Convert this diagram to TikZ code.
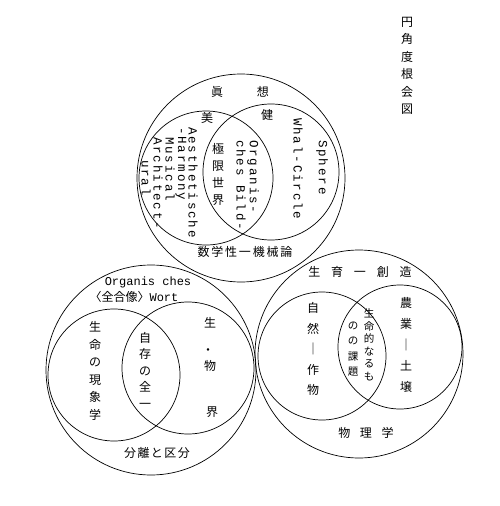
\documentclass[tikz,border=0pt]{standalone}
\usepackage{fontspec}
\setmonofont{Liberation Mono}
\newfontfamily\jp{Noto Sans CJK JP}
\usetikzlibrary{positioning}

\tikzset{
  ring/.style={draw, line width=0.7pt},
  kanji/.style={font=\jp\fontsize{12}{#1}\selectfont, align=center, inner sep=0pt},
  kanji/.default=17,
  kanjirow/.style={font=\jp\fontsize{12}{12}\selectfont\addfontfeature{LetterSpace=#1}, inner sep=0pt},
  kanjirow/.default=0,
  vword/.style={font=\ttfamily\fontsize{12.5}{12.5}\selectfont\addfontfeature{LetterSpace=15}, rotate=-90, anchor=west, inner sep=0pt},
  hword/.style={font=\ttfamily\fontsize{12}{14}\selectfont, inner sep=0pt},
}

\begin{document}
\begin{tikzpicture}[x=1pt, y=-1pt]
        \useasboundingbox (0,0) rectangle (500,506);

        % Title
        \node[kanji=17.5] (title) at (407,66) {円\\角\\度\\根\\会\\図};

        % Upper circle
        \draw[ring] (241,178) circle[radius=104pt];
        \draw[ring] (206,178) circle[radius=67pt];
        \draw[ring] (271,172) circle[radius=68pt];
        \node[kanjirow] (shinso) at (240,92) {眞\hspace{34pt}想};
        \node[kanjirow] (bi) at (207,118) {美};
        \node[kanjirow] (ken) at (267,115) {健};
        \node[vword] (aesth) at (193,127) {Aesthetische};
        \node[vword] (harm) at (181,127) {-Harmony};
        \node[vword] (music) at (170,137) {Musical};
        \node[vword] (archi) at (158,137) {Architect-};
        \node[vword] (ural) at (146,160) {ural};
        \node[kanji] (kyokugen) at (218,174) {極\\限\\世\\界};
        \node[vword] (organ) at (253,140) {Organis-};
        \node[vword] (bild) at (241,140) {ches Bild-};
        \node[vword] (sphere) at (322,140) {Sphere};
        \node[vword] (whole) at (298,118) {Whal-Circle};
        \node[kanjirow=15] (suugaku) at (245,252) {数学性一機械論};

        % Lower left circle
        \draw[ring] (151,370) circle[radius=105pt];
        \draw[ring] (114,375) circle[radius=66pt];
        \draw[ring] (188,368) circle[radius=66pt];
        \node[hword] (wort1) at (148,282) {Organis ches};
        \node[hword] (wort2) at (134,297) {{\jp\fontsize{12}{12}\selectfont 〈全合像〉}Wort};
        \node[kanji=17.5] (genshou) at (95,371) {生\\命\\の\\現\\象\\学};
        \node[kanji=16.5] (jison) at (145,370) {自\\存\\の\\全\\一};
        \node[kanjirow] (sei) at (210,323) {生};
        \node[kanjirow] (dot) at (208,352) {・};
        \node[kanjirow] (butsu) at (210,366) {物};
        \node[kanjirow] (kai) at (212,412) {界};
        \node[kanjirow=12] (bunri) at (157,453) {分離と区分};

        % Lower right circle
        \draw[ring] (359,354) circle[radius=104pt];
        \draw[ring] (322,356) circle[radius=64pt];
        \draw[ring] (400,347) circle[radius=62pt];
        \node[kanjirow=90] (seiiku) at (360,272) {生育一創造};
        \node[kanji=20.5] (shizen) at (313,349) {自\\然\\｜\\作\\物};
        \node[kanji=21] (nougyou) at (406,345) {農\\業\\｜\\土\\壌};
        \node[kanji=12.5, font=\jp\fontsize{10.5}{12.5}\selectfont] (seimei) at (369,345) {生\\命\\的\\な\\る\\も};
        \node[kanji=15.5, font=\jp\fontsize{10.5}{15.5}\selectfont] (kadai) at (353,349) {の\\の\\課\\題};
        \node[kanjirow=80] (butsuri) at (366,433) {物理学};
    \end{tikzpicture}
\end{document}
